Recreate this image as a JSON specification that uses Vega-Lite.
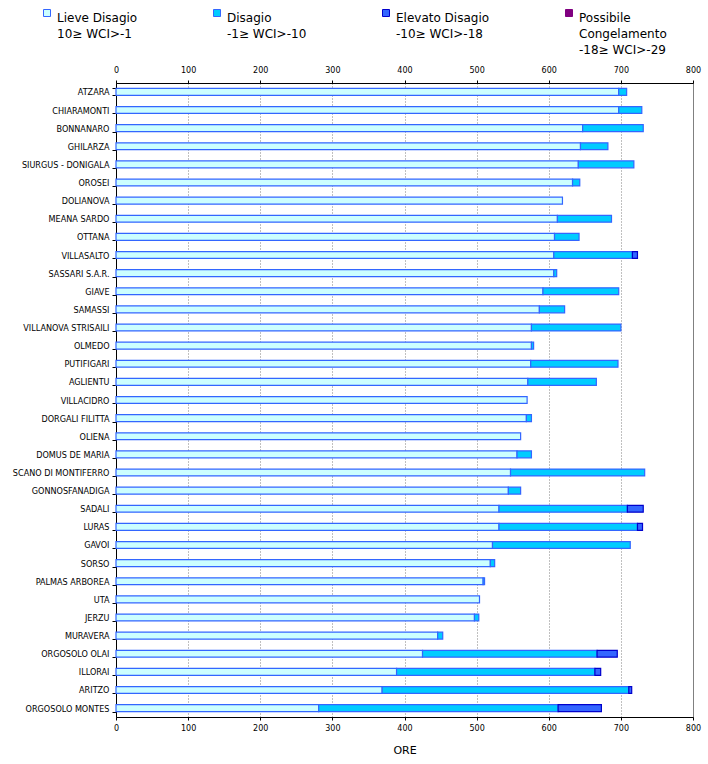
{
  "$schema": "https://vega.github.io/schema/vega-lite/v6.json",
  "width": 577,
  "height": 634,
  "autosize": "none",
  "padding": {"left": 116, "top": 83, "right": 15, "bottom": 47},
  "background": "white",
  "data": {
    "values": [
      {"stazione": "ATZARA", "fascia": "Lieve Disagio", "ore": 697},
      {"stazione": "ATZARA", "fascia": "Disagio", "ore": 11},
      {"stazione": "CHIARAMONTI", "fascia": "Lieve Disagio", "ore": 697},
      {"stazione": "CHIARAMONTI", "fascia": "Disagio", "ore": 32},
      {"stazione": "BONNANARO", "fascia": "Lieve Disagio", "ore": 647},
      {"stazione": "BONNANARO", "fascia": "Disagio", "ore": 84},
      {"stazione": "GHILARZA", "fascia": "Lieve Disagio", "ore": 644},
      {"stazione": "GHILARZA", "fascia": "Disagio", "ore": 38},
      {"stazione": "SIURGUS - DONIGALA", "fascia": "Lieve Disagio", "ore": 641},
      {"stazione": "SIURGUS - DONIGALA", "fascia": "Disagio", "ore": 77},
      {"stazione": "OROSEI", "fascia": "Lieve Disagio", "ore": 633},
      {"stazione": "OROSEI", "fascia": "Disagio", "ore": 10},
      {"stazione": "DOLIANOVA", "fascia": "Lieve Disagio", "ore": 619},
      {"stazione": "MEANA SARDO", "fascia": "Lieve Disagio", "ore": 612},
      {"stazione": "MEANA SARDO", "fascia": "Disagio", "ore": 75},
      {"stazione": "OTTANA", "fascia": "Lieve Disagio", "ore": 608},
      {"stazione": "OTTANA", "fascia": "Disagio", "ore": 34},
      {"stazione": "VILLASALTO", "fascia": "Lieve Disagio", "ore": 607},
      {"stazione": "VILLASALTO", "fascia": "Disagio", "ore": 109},
      {"stazione": "VILLASALTO", "fascia": "Elevato Disagio", "ore": 7},
      {"stazione": "SASSARI S.A.R.", "fascia": "Lieve Disagio", "ore": 607},
      {"stazione": "SASSARI S.A.R.", "fascia": "Disagio", "ore": 4},
      {"stazione": "GIAVE", "fascia": "Lieve Disagio", "ore": 592},
      {"stazione": "GIAVE", "fascia": "Disagio", "ore": 105},
      {"stazione": "SAMASSI", "fascia": "Lieve Disagio", "ore": 587},
      {"stazione": "SAMASSI", "fascia": "Disagio", "ore": 35},
      {"stazione": "VILLANOVA STRISAILI", "fascia": "Lieve Disagio", "ore": 576},
      {"stazione": "VILLANOVA STRISAILI", "fascia": "Disagio", "ore": 124},
      {"stazione": "OLMEDO", "fascia": "Lieve Disagio", "ore": 576},
      {"stazione": "OLMEDO", "fascia": "Disagio", "ore": 3},
      {"stazione": "PUTIFIGARI", "fascia": "Lieve Disagio", "ore": 575},
      {"stazione": "PUTIFIGARI", "fascia": "Disagio", "ore": 121},
      {"stazione": "AGLIENTU", "fascia": "Lieve Disagio", "ore": 571},
      {"stazione": "AGLIENTU", "fascia": "Disagio", "ore": 95},
      {"stazione": "VILLACIDRO", "fascia": "Lieve Disagio", "ore": 570},
      {"stazione": "DORGALI FILITTA", "fascia": "Lieve Disagio", "ore": 569},
      {"stazione": "DORGALI FILITTA", "fascia": "Disagio", "ore": 7},
      {"stazione": "OLIENA", "fascia": "Lieve Disagio", "ore": 561},
      {"stazione": "DOMUS DE MARIA", "fascia": "Lieve Disagio", "ore": 556},
      {"stazione": "DOMUS DE MARIA", "fascia": "Disagio", "ore": 20},
      {"stazione": "SCANO DI MONTIFERRO", "fascia": "Lieve Disagio", "ore": 547},
      {"stazione": "SCANO DI MONTIFERRO", "fascia": "Disagio", "ore": 186},
      {"stazione": "GONNOSFANADIGA", "fascia": "Lieve Disagio", "ore": 544},
      {"stazione": "GONNOSFANADIGA", "fascia": "Disagio", "ore": 17},
      {"stazione": "SADALI", "fascia": "Lieve Disagio", "ore": 531},
      {"stazione": "SADALI", "fascia": "Disagio", "ore": 178},
      {"stazione": "SADALI", "fascia": "Elevato Disagio", "ore": 22},
      {"stazione": "LURAS", "fascia": "Lieve Disagio", "ore": 531},
      {"stazione": "LURAS", "fascia": "Disagio", "ore": 192},
      {"stazione": "LURAS", "fascia": "Elevato Disagio", "ore": 7},
      {"stazione": "GAVOI", "fascia": "Lieve Disagio", "ore": 522},
      {"stazione": "GAVOI", "fascia": "Disagio", "ore": 191},
      {"stazione": "SORSO", "fascia": "Lieve Disagio", "ore": 519},
      {"stazione": "SORSO", "fascia": "Disagio", "ore": 6},
      {"stazione": "PALMAS ARBOREA", "fascia": "Lieve Disagio", "ore": 509},
      {"stazione": "PALMAS ARBOREA", "fascia": "Disagio", "ore": 2},
      {"stazione": "UTA", "fascia": "Lieve Disagio", "ore": 504},
      {"stazione": "JERZU", "fascia": "Lieve Disagio", "ore": 497},
      {"stazione": "JERZU", "fascia": "Disagio", "ore": 6},
      {"stazione": "MURAVERA", "fascia": "Lieve Disagio", "ore": 446},
      {"stazione": "MURAVERA", "fascia": "Disagio", "ore": 7},
      {"stazione": "ORGOSOLO OLAI", "fascia": "Lieve Disagio", "ore": 425},
      {"stazione": "ORGOSOLO OLAI", "fascia": "Disagio", "ore": 242},
      {"stazione": "ORGOSOLO OLAI", "fascia": "Elevato Disagio", "ore": 28},
      {"stazione": "ILLORAI", "fascia": "Lieve Disagio", "ore": 389},
      {"stazione": "ILLORAI", "fascia": "Disagio", "ore": 275},
      {"stazione": "ILLORAI", "fascia": "Elevato Disagio", "ore": 8},
      {"stazione": "ARITZO", "fascia": "Lieve Disagio", "ore": 369},
      {"stazione": "ARITZO", "fascia": "Disagio", "ore": 342},
      {"stazione": "ARITZO", "fascia": "Elevato Disagio", "ore": 4},
      {"stazione": "ORGOSOLO MONTES", "fascia": "Lieve Disagio", "ore": 281},
      {"stazione": "ORGOSOLO MONTES", "fascia": "Disagio", "ore": 332},
      {"stazione": "ORGOSOLO MONTES", "fascia": "Elevato Disagio", "ore": 60}
    ]
  },
  "transform": [
    {
      "calculate": "indexof(['Lieve Disagio', 'Disagio', 'Elevato Disagio', 'Possibile Congelamento'], datum.fascia)",
      "as": "ordine"
    }
  ],
  "encoding": {
    "y": {
      "field": "stazione",
      "type": "nominal",
      "sort": null,
      "scale": {"paddingInner": 0.62, "paddingOuter": 0.3},
      "axis": {
        "title": null,
        "domainColor": "black",
        "tickBand": "extent",
        "tickColor": "black",
        "tickSize": 4,
        "labelFont": "Liberation Sans Narrow, DejaVu Sans Condensed, sans-serif",
        "labelFontSize": 9,
        "labelColor": "black",
        "labelPadding": 3,
        "labelLimit": 200
      }
    }
  },
  "layer": [
    {
      "mark": {"type": "bar", "strokeWidth": 1.2},
      "encoding": {
        "x": {
          "field": "ore",
          "type": "quantitative",
          "scale": {"domain": [0, 800]},
          "axis": {
            "orient": "bottom",
            "values": [0, 100, 200, 300, 400, 500, 600, 700, 800],
            "grid": true,
            "gridColor": "#808080",
            "gridDash": [1, 2],
            "title": "ORE",
            "titleFont": "DejaVu Sans",
            "titleFontSize": 11,
            "titleFontWeight": "normal",
            "titlePadding": 12,
            "labelPadding": 4
          }
        },
        "color": {
          "field": "fascia",
          "type": "nominal",
          "scale": {
            "domain": ["Lieve Disagio", "Disagio", "Elevato Disagio", "Possibile Congelamento"],
            "range": ["#CCFFFF", "#00CCFF", "#3366FF", "#800080"]
          },
          "legend": {
            "title": null,
            "orient": "none",
            "legendX": -75,
            "legendY": -76,
            "direction": "horizontal",
            "columns": 4,
            "columnPadding": 73,
            "padding": 0,
            "symbolType": "square",
            "symbolSize": 49,
            "symbolStrokeWidth": 1,
            "labelFont": "DejaVu Sans",
            "labelFontSize": 12,
            "labelColor": "black",
            "labelOffset": 4,
            "labelLimit": 300,
            "labelBaseline": "top",
            "labelExpr": "datum.label == 'Lieve Disagio' ? ['Lieve Disagio', '10≥ WCI>-1', ' '] : datum.label == 'Disagio' ? ['Disagio', '-1≥ WCI>-10', ' '] : datum.label == 'Elevato Disagio' ? ['Elevato Disagio', '-10≥ WCI>-18', ' '] : ['Possibile', 'Congelamento', '-18≥ WCI>-29']",
            "encode": {"labels": {"update": {"lineHeight": {"value": 16}}}}
          }
        },
        "stroke": {
          "field": "fascia",
          "type": "nominal",
          "scale": {
            "domain": ["Lieve Disagio", "Disagio", "Elevato Disagio", "Possibile Congelamento"],
            "range": ["#3366FF", "#3366FF", "#0000CC", "#800080"]
          },
          "legend": {
            "title": null,
            "orient": "none",
            "legendX": -75,
            "legendY": -76,
            "direction": "horizontal",
            "columns": 4,
            "columnPadding": 73,
            "padding": 0,
            "symbolType": "square",
            "symbolSize": 49,
            "symbolStrokeWidth": 1,
            "labelFont": "DejaVu Sans",
            "labelFontSize": 12,
            "labelColor": "black",
            "labelOffset": 4,
            "labelLimit": 300,
            "labelBaseline": "top",
            "labelExpr": "datum.label == 'Lieve Disagio' ? ['Lieve Disagio', '10≥ WCI>-1', ' '] : datum.label == 'Disagio' ? ['Disagio', '-1≥ WCI>-10', ' '] : datum.label == 'Elevato Disagio' ? ['Elevato Disagio', '-10≥ WCI>-18', ' '] : ['Possibile', 'Congelamento', '-18≥ WCI>-29']",
            "encode": {"labels": {"update": {"lineHeight": {"value": 16}}}}
          }
        },
        "order": {"field": "ordine", "type": "quantitative"}
      }
    },
    {
      "mark": {"type": "bar", "opacity": 0},
      "encoding": {
        "x": {
          "field": "ore",
          "type": "quantitative",
          "aggregate": "sum",
          "scale": {"domain": [0, 800]},
          "axis": {
            "orient": "top",
            "values": [0, 100, 200, 300, 400, 500, 600, 700, 800],
            "grid": false,
            "title": null,
            "labelPadding": 6
          }
        }
      }
    }
  ],
  "resolve": {"axis": {"x": "independent"}},
  "config": {
    "view": {"stroke": "#808080"},
    "axisX": {
      "domainColor": "black",
      "tickColor": "black",
      "tickSize": 3,
      "labelFont": "DejaVu Sans",
      "labelFontSize": 8,
      "labelColor": "black",
      "labelFlush": false
    }
  }
}
